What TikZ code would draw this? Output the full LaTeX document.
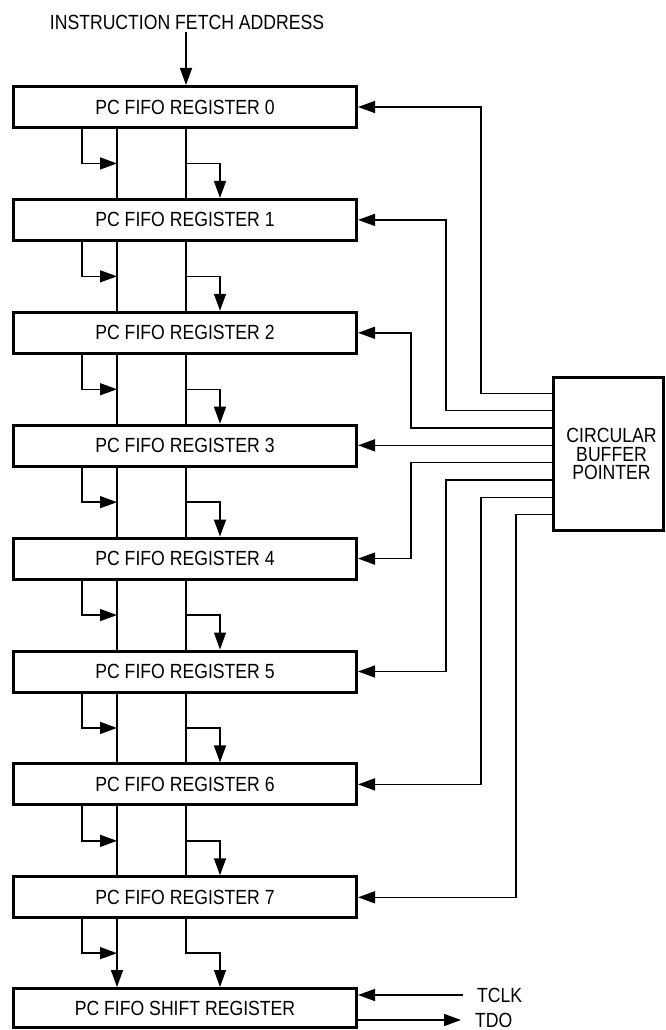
\documentclass[tikz,border=0pt]{standalone}
\usepackage{fontspec}
\setmainfont{Liberation Sans}[FakeStretch=0.86]
\usetikzlibrary{arrows.meta,calc}
\tikzset{
  txt/.style={font=\fontsize{20.5}{18.6}\selectfont},
  reg/.style={txt, draw, line width=3pt, minimum width=343pt, minimum height=41pt, inner sep=0pt},
  conn/.style={line width=1.5pt},
  arr/.style={conn, -{Triangle[length=17pt,width=12pt]}},
  lbl/.style={txt, inner sep=0pt, outer sep=3pt},
  sidelbl/.style={txt, anchor=west, inner ysep=0pt, inner xsep=14pt, outer sep=0pt}
}
\begin{document}
\begin{tikzpicture}[x=1pt,y=-1pt]
\useasboundingbox (0,0) rectangle (665,1030);
% column coordinates
\coordinate (xa) at (82,0);
\coordinate (xb) at (117,0);
\coordinate (xc) at (186,0);
\coordinate (xd) at (220,0);
\coordinate (ca) at (481,0);
\coordinate (cb) at (446,0);
\coordinate (cc) at (411,0);
\coordinate (cd) at (516,0);
% nodes
\node[lbl] (ifa) at (187,22) {INSTRUCTION FETCH ADDRESS};
\foreach \i in {0,...,7}
  \node[reg] (r\i) at (185,{107+112.9*\i}) {PC FIFO REGISTER \i};
\node[reg, minimum height=39pt] (rs) at (185,1008) {PC FIFO SHIFT REGISTER};
\node[txt, draw, line width=3pt, minimum width=110pt, minimum height=153pt,
      align=center, inner sep=0pt] (cbp) at (608.5,454) {\hspace*{6pt}CIRCULAR\\\hspace*{6pt}BUFFER\\\hspace*{6pt}POINTER};
\node[sidelbl] (tclk) at (463,995) {TCLK};
\node[sidelbl] (tdo) at (461,1020) {TDO};
% input
\draw[arr] (ifa.south -| xc) -- (r0.north -| xc);
% register chain
\foreach \i [count=\j from 1] in {0,...,6} {
  \draw[conn] (r\i.south -| xb) -- (r\j.north -| xb);
  \draw[conn] (r\i.south -| xc) -- (r\j.north -| xc);
  \draw[arr] (r\i.south -| xa) |- ($(r\i.south -| xb)!0.5!(r\j.north -| xb)$);
  \draw[arr] ($(r\i.south -| xc)!0.5!(r\j.north -| xc)$) -| (r\j.north -| xd);
}
\draw[arr] (r7.south -| xb) -- (rs.north -| xb);
\draw[arr] (r7.south -| xa) |- ($(r7.south -| xb)!0.5!(rs.north -| xb)$);
\draw[arr] (r7.south -| xc) -- ($(r7.south -| xc)!0.5!(rs.north -| xc)$) -| (rs.north -| xd);
% circular buffer pointer outputs
\foreach \k in {0,...,7}
  \coordinate (p\k) at ($(cbp.north west)!\k/9+1/9!(cbp.south west)$);
\foreach \k/\c in {0/ca,1/cb,2/cc,4/cc,5/cb,6/ca,7/cd}
  \draw[arr] (p\k) -| (\c |- r\k.east) -- (r\k.east);
\draw[arr] (p3) -- (p3 -| r3.east);
% JTAG
\draw[arr] (tclk.west) -- (tclk.west -| rs.east);
\draw[arr] (tdo.west -| rs.east) -- (tdo.west);
\end{tikzpicture}
\end{document}
